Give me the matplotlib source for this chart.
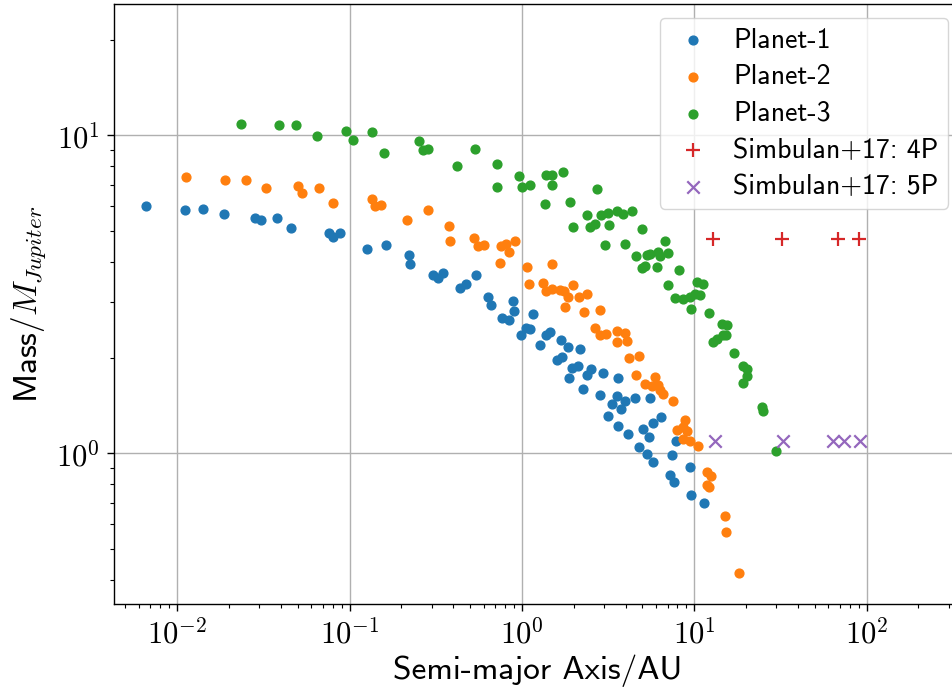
import matplotlib
matplotlib.use("Agg")
import matplotlib.pyplot as plt
from matplotlib.ticker import NullFormatter, LogLocator, FuncFormatter
import numpy as np

plt.rcParams["font.family"] = ["cmss10", "DejaVu Sans"]
plt.rcParams["mathtext.fontset"] = "cm"
plt.rcParams["axes.unicode_minus"] = False

# Semi-major axis (AU) and mass (M_Jupiter) of the simulated planets
a_p1 = [0.0066, 0.0111, 0.0142, 0.0187, 0.0281, 0.0305, 0.0381, 0.0459, 0.0762, 0.0804,
        0.0875, 0.126, 0.163, 0.221, 0.225, 0.307, 0.326, 0.351, 0.439, 0.475,
        0.543, 0.637, 0.664, 0.887, 0.902, 0.766, 0.847, 1.168, 0.987, 1.055,
        1.122, 1.277, 1.384, 1.45, 1.686, 1.844, 2.179, 1.592, 1.72, 1.966,
        2.107, 1.868, 2.513, 2.392, 2.95, 3.634, 2.277, 2.846, 3.557, 3.958,
        4.542, 5.511, 3.332, 3.767, 3.167, 3.634, 4.153, 5.034, 5.497, 5.799,
        6.427, 4.79, 5.309, 5.775, 7.417, 7.8, 7.248, 7.646, 9.404, 9.556, 11.46]
m_p1 = [6.00, 5.83, 5.885, 5.675, 5.50, 5.41, 5.50, 5.105, 4.935, 4.79,
        4.935, 4.39, 4.52, 4.20, 3.93, 3.64, 3.57, 3.70, 3.31, 3.41,
        3.64, 3.11, 2.93, 3.015, 2.795, 2.666, 2.627, 2.744, 2.357, 2.474,
        2.466, 2.189, 2.349, 2.412, 2.273, 2.165, 2.125, 1.970, 2.009, 1.848,
        1.882, 1.729, 1.842, 1.764, 1.795, 1.730, 1.590, 1.529, 1.518, 1.464,
        1.487, 1.487, 1.429, 1.379, 1.306, 1.219, 1.150, 1.190, 1.128, 1.243,
        1.298, 1.049, 0.993, 0.942, 0.991, 1.095, 0.855, 0.814, 0.904, 0.739, 0.699]

a_p2 = [0.0113, 0.0189, 0.0251, 0.0326, 0.0504, 0.0530, 0.0665, 0.0804, 0.135, 0.140,
        0.152, 0.217, 0.287, 0.377, 0.384, 0.529, 0.553, 0.607, 0.755, 0.811,
        0.841, 0.918, 0.743, 1.076, 1.489, 1.095, 1.324, 1.389, 1.499, 1.668,
        1.752, 1.970, 1.844, 2.150, 2.392, 1.783, 2.307, 2.846, 2.662, 2.835,
        3.063, 3.572, 3.974, 3.572, 4.082, 4.165, 4.79, 4.621, 5.156, 5.893,
        5.677, 6.151, 6.342, 6.627, 7.545, 8.797, 7.926, 8.588, 9.06, 8.659,
        9.404, 10.51, 11.83, 12.48, 11.83, 12.25, 15.17, 15.37, 18.29]
m_p2 = [7.39, 7.244, 7.244, 6.836, 6.92, 6.595, 6.836, 6.118, 6.298, 6.012,
        6.056, 5.422, 5.83, 5.203, 4.656, 4.759, 4.489, 4.523, 4.489, 4.546,
        4.299, 4.656, 3.956, 3.857, 3.928, 3.41, 3.442, 3.248, 3.281, 3.272,
        3.236, 3.378, 3.097, 3.097, 3.160, 2.876, 2.773, 2.824, 2.474, 2.349,
        2.374, 2.426, 2.382, 2.232, 2.256, 1.995, 2.024, 1.764, 1.652, 1.742,
        1.628, 1.640, 1.576, 1.537, 1.463, 1.268, 1.181, 1.207, 1.175, 1.111,
        1.093, 1.057, 0.871, 0.850, 0.795, 0.782, 0.635, 0.567, 0.419]

a_p3 = [0.0235, 0.0388, 0.0486, 0.0652, 0.0957, 0.105, 0.135, 0.158, 0.254, 0.267,
        0.287, 0.420, 0.536, 0.716, 0.716, 0.969, 1.00, 1.117, 1.378, 1.493,
        1.493, 1.743, 1.370, 1.906, 2.745, 1.976, 2.402, 2.490, 2.662, 2.884,
        3.167, 3.557, 3.885, 4.345, 3.209, 3.05, 3.974, 4.966, 6.782, 4.621,
        5.309, 5.548, 6.199, 6.342, 7.012, 4.966, 5.156, 6.093, 8.12, 7.012,
        7.748, 10.33, 11.22, 8.659, 9.467, 10.12, 10.82, 9.594, 12.25, 14.46,
        15.46, 14.65, 13.52, 12.92, 15.37, 17.09, 19.29, 20.19, 20.35, 19.29,
        24.67, 25.2, 29.87]
m_p3 = [10.87, 10.77, 10.77, 9.99, 10.35, 9.68, 10.28, 8.83, 9.61, 8.97,
        9.07, 8.035, 9.07, 8.134, 6.9, 7.459, 6.9, 6.97, 7.51, 7.51,
        6.97, 7.676, 6.065, 6.176, 6.77, 5.154, 5.614, 5.164, 5.266, 5.622,
        5.684, 5.787, 5.662, 5.787, 5.21, 4.523, 4.556, 5.068, 4.656, 4.186,
        4.207, 4.231, 4.309, 4.168, 4.268, 3.821, 3.894, 3.849, 3.774, 3.381,
        3.07, 3.447, 3.41, 3.065, 3.097, 3.171, 3.148, 2.849, 2.769, 2.543,
        2.525, 2.357, 2.285, 2.232, 2.357, 2.068, 1.882, 1.838, 1.751, 1.661,
        1.395, 1.361, 1.019]

# Simbulan et al. (2017) configurations
a_s4 = [12.9, 32.2, 68.3, 90.5]
m_s4 = [4.71, 4.71, 4.71, 4.71]
a_s5 = [13.2, 32.7, 63.9, 74.1, 91.7]
m_s5 = [1.095, 1.095, 1.095, 1.095, 1.095]

fig = plt.figure(figsize=(9.52, 6.90), dpi=100)
# axes box runs slightly past the right edge of the canvas
ax = fig.add_axes([114 / 952, 86 / 690, (962 - 114) / 952, 600 / 690])

ax.scatter(a_p1, m_p1, s=40, color="tab:blue", label="Planet-1", zorder=3)
ax.scatter(a_p2, m_p2, s=40, color="tab:orange", label="Planet-2", zorder=3)
ax.scatter(a_p3, m_p3, s=40, color="tab:green", label="Planet-3", zorder=3)
ax.scatter(a_s4, m_s4, s=90, marker="+", color="tab:red", linewidths=1.6,
           label="Simbulan+17: 4P", zorder=3)
ax.scatter(a_s5, m_s5, s=80, marker="x", color="tab:purple", linewidths=1.6,
           label="Simbulan+17: 5P", zorder=3)

ax.set_xscale("log")
ax.set_yscale("log")
ax.set_xlim(0.0043, 358)
ax.set_ylim(0.3356, 25.9)


def pow10(v, pos):
    e = int(np.round(np.log10(v)))
    return r"$10^{%d}$" % e


ax.xaxis.set_major_formatter(FuncFormatter(pow10))
ax.yaxis.set_major_formatter(FuncFormatter(pow10))
ax.yaxis.set_minor_formatter(NullFormatter())
ax.xaxis.set_minor_locator(LogLocator(base=10, subs=range(2, 10), numticks=20))
ax.xaxis.set_minor_formatter(NullFormatter())

ax.grid(True, which="major", color="#b0b0b0", linewidth=1.0, zorder=0)
ax.set_axisbelow(True)

ax.tick_params(which="major", labelsize=22, length=5, width=1.0, pad=5)
ax.tick_params(which="minor", length=3, width=0.8)
for sp in ax.spines.values():
    sp.set_linewidth(1.0)

ax.set_xlabel("Semi-major Axis/AU", fontsize=24, labelpad=4)
ax.set_ylabel("Mass$/M_{Jupiter}$", fontsize=24, labelpad=6)

ax.legend(loc="upper right", fontsize=20, framealpha=0.8, borderpad=0.35,
          labelspacing=0.42, handlelength=1.7, handletextpad=0.6)

fig.savefig("out.png", dpi=100)
